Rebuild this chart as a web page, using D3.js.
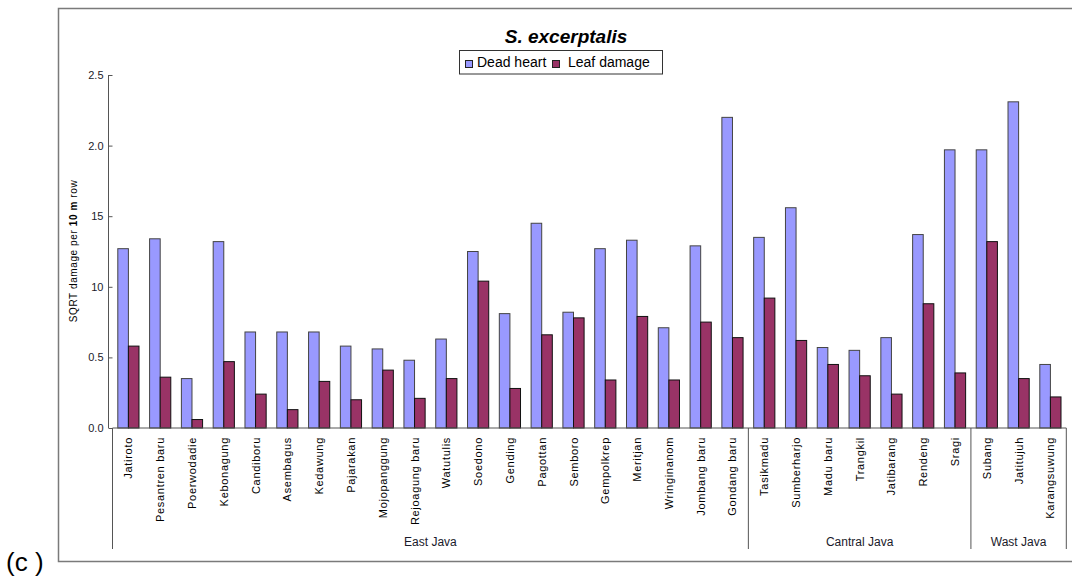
<!DOCTYPE html>
<html>
<head>
<meta charset="utf-8">
<script src="https://cdn.jsdelivr.net/npm/d3@7"></script>
<style>
  html, body { margin: 0; padding: 0; background: #fff; }
  svg { display: block; font-family: "Liberation Sans", Arial, sans-serif; }
</style>
</head>
<body>
<svg id="chart" width="1072" height="579"></svg>
<script>
// Sugarcane sites, grouped by province
const sites = [
  "Jatiroto", "Pesantren baru", "Poerwodadie", "Kebonagung", "Candiboru",
  "Asembagus", "Kedawung", "Pajarakan", "Mojopanggung", "Rejoagung baru",
  "Watutulis", "Soedono", "Gending", "Pagottan", "Semboro",
  "Gempolkrep", "Meritjan", "Wringinanom", "Jombang baru", "Gondang baru",
  "Tasikmadu", "Sumberharjo", "Madu baru", "Trangkil", "Jatibarang",
  "Rendeng", "Sragi",
  "Subang", "Jatitujuh", "Karangsuwung"
];
const groupNames = ["East Java", "Cantral Java", "Wast Java"];
const groupSizes = [20, 7, 3];

const seriesNames = ["Dead heart", "Leaf damage"];
const deadHeart = [
  1.27, 1.34, 0.35, 1.32, 0.68, 0.68, 0.68, 0.58, 0.56, 0.48,
  0.63, 1.25, 0.81, 1.45, 0.82, 1.27, 1.33, 0.71, 1.29, 2.20,
  1.35, 1.56, 0.57, 0.55, 0.64, 1.37, 1.97,
  1.97, 2.31, 0.45
];
const leafDamage = [
  0.58, 0.36, 0.06, 0.47, 0.24, 0.13, 0.33, 0.20, 0.41, 0.21,
  0.35, 1.04, 0.28, 0.66, 0.78, 0.34, 0.79, 0.34, 0.75, 0.64,
  0.92, 0.62, 0.45, 0.37, 0.24, 0.88, 0.39,
  1.32, 0.35, 0.22
];

const yTickValues = [0, 0.5, 1.0, 1.5, 2.0, 2.5];
const yTickLabels = ["0.0", "0.5", "10", "15", "2.0", "2.5"];

const colors = { "Dead heart": "#9999FF", "Leaf damage": "#993366" };
const strokes = { "Dead heart": "#444", "Leaf damage": "#111" };

const svg = d3.select("#chart");
const FONT = "'Liberation Sans', Arial, sans-serif";

// Outer chart frame (open on the right)
svg.append("path")
  .attr("d", "M1072,8.5 H58.5 V561.5 H1072")
  .attr("fill", "none")
  .attr("stroke", "#7a7a7a")
  .attr("stroke-width", 1.5);

// Scales
const x = d3.scaleBand().domain(sites).range([112.5, 1066.3]).paddingInner(0).paddingOuter(0);
const xs = d3.scaleBand().domain(seriesNames).range([0, x.bandwidth()]).paddingInner(0).paddingOuter(0.5);
const y = d3.scaleLinear().domain([0, 2.5]).range([428, 75]);

// Bars
const rows = sites.map((s, i) => ({ site: s, values: [
  { key: "Dead heart", value: deadHeart[i] },
  { key: "Leaf damage", value: leafDamage[i] }
]}));

const g = svg.append("g");
g.selectAll("g.site").data(rows).join("g")
  .attr("class", "site")
  .attr("transform", d => `translate(${x(d.site)},0)`)
  .selectAll("rect").data(d => d.values).join("rect")
    .attr("x", d => xs(d.key))
    .attr("width", xs.bandwidth())
    .attr("y", d => y(d.value))
    .attr("height", d => y(0) - y(d.value))
    .attr("fill", d => colors[d.key])
    .attr("stroke", d => strokes[d.key])
    .attr("stroke-width", 1);

// Y axis
const yAxis = d3.axisLeft(y)
  .tickValues(yTickValues)
  .tickFormat((d, i) => yTickLabels[i])
  .tickSize(4)
  .tickPadding(5);
const yg = svg.append("g").attr("transform", "translate(112.5,0)").call(yAxis);
yg.select(".domain").attr("stroke", "#555").attr("d", "M-4,75V428");
yg.selectAll(".tick line").attr("stroke", "#555");
yg.selectAll(".tick text").attr("font-size", 11).attr("font-family", FONT).attr("fill", "#1a1a2a");

// X baseline
svg.append("line")
  .attr("x1", x.range()[0]).attr("x2", x.range()[1])
  .attr("y1", y(0)).attr("y2", y(0))
  .attr("stroke", "#555");

// Category labels (rotated)
svg.append("g").selectAll("text").data(sites).join("text")
  .attr("transform", d => `translate(${x(d) + x.bandwidth() / 2 + 4},437) rotate(-90)`)
  .attr("text-anchor", "end")
  .attr("font-size", 11)
  .attr("letter-spacing", 0.7)
  .attr("font-family", FONT)
  .attr("fill", "#000")
  .text(d => d);

// Province separators and labels
let start = 0;
const bounds = [0];
groupSizes.forEach(n => { start += n; bounds.push(start); });
const boundX = i => i < sites.length ? x(sites[i]) : x.range()[1];

svg.append("g").selectAll("line").data(bounds).join("line")
  .attr("x1", d => boundX(d)).attr("x2", d => boundX(d))
  .attr("y1", 428).attr("y2", 549)
  .attr("stroke", "#555");

svg.append("g").selectAll("text").data(groupNames).join("text")
  .attr("x", (d, i) => (boundX(bounds[i]) + boundX(bounds[i + 1])) / 2)
  .attr("y", 546)
  .attr("text-anchor", "middle")
  .attr("font-size", 12)
  .attr("font-family", FONT)
  .attr("fill", "#1a1a2a")
  .text(d => d);

// Y axis title
const yt = svg.append("text")
  .attr("transform", "translate(77,251) rotate(-90)")
  .attr("text-anchor", "middle")
  .attr("font-size", 10)
  .attr("letter-spacing", 0.6)
  .attr("font-family", FONT)
  .attr("fill", "#000");
yt.append("tspan").text("SQRT damage per ");
yt.append("tspan").attr("font-weight", "bold").text("10 m");
yt.append("tspan").text(" row");

// Title
svg.append("text")
  .attr("x", 566).attr("y", 43)
  .attr("text-anchor", "middle")
  .attr("font-size", 19)
  .attr("font-weight", "bold")
  .attr("font-style", "italic")
  .attr("font-family", FONT)
  .attr("fill", "#000")
  .text("S. excerptalis");

// Legend
const lg = svg.append("g");
lg.append("rect")
  .attr("x", 459.5).attr("y", 50.5).attr("width", 203).attr("height", 23.5)
  .attr("fill", "#fff").attr("stroke", "#333").attr("stroke-width", 1);
const legendItems = [
  { key: "Dead heart", sx: 465.5, tx: 477 },
  { key: "Leaf damage", sx: 552.5, tx: 568 }
];
legendItems.forEach(it => {
  lg.append("rect")
    .attr("x", it.sx).attr("y", 60.5).attr("width", 7).attr("height", 7)
    .attr("fill", colors[it.key]).attr("stroke", "#222");
  lg.append("text")
    .attr("x", it.tx).attr("y", 67)
    .attr("font-size", 14)
    .attr("font-family", FONT)
    .attr("fill", "#000")
    .text(it.key);
});

// Panel label
svg.append("text")
  .attr("x", 6).attr("y", 571)
  .attr("font-size", 26)
  .attr("font-family", FONT)
  .attr("fill", "#000")
  .text("(c )");
</script>
</body>
</html>
